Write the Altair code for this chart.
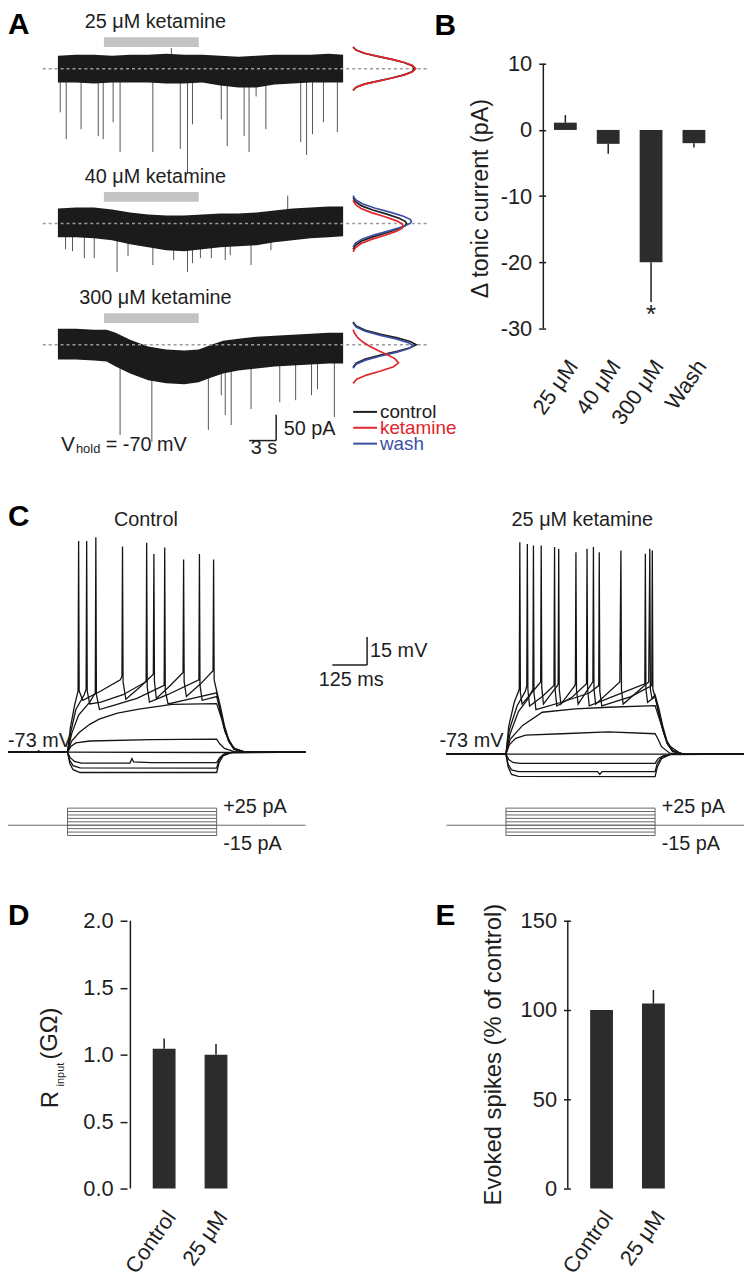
import altair as alt
import pandas as pd

FONT = "Liberation Sans, Arial, Helvetica, sans-serif"
INK = "#1e1e1e"
BAR = "#2c2c2c"
RED = "#e0252b"
BLUE = "#3b50a4"
DRUG = "#c3c3c3"
STEPC = "#666666"

W, H = 742, 1272   # drawing canvas (page margin is 8 px)

# ================= Panel A : tonic current traces =================
A_labels = ["25 μM ketamine", "40 μM ketamine", "300 μM ketamine"]
A_drug = [5.1, 15.6]          # s, application window

A1_t = [0, 2, 4, 6, 8, 10, 12, 14, 16, 18, 20, 22, 24, 26, 28, 30, 31.6]
A1_top = [25.0, 26.9, 26.9, 25.0, 26.9, 26.9, 28.8, 26.9, 26.9, 25.0, 23.1, 25.0, 26.9, 26.9, 26.9, 28.8, 26.9]
A1_bot = [-26.9, -26.9, -28.8, -26.9, -26.9, -26.9, -28.8, -28.8, -26.9, -32.7, -36.5, -36.5, -30.8, -28.8, -26.9, -26.9, -26.9]

A2_t = [0, 2, 4, 6, 8, 10, 12, 14, 16, 18, 20, 22, 24, 26, 28, 30, 31.6]
A2_top = [28.8, 30.8, 30.8, 26.9, 21.2, 17.3, 15.4, 15.4, 17.3, 19.2, 19.2, 21.2, 25.0, 28.8, 30.8, 32.7, 32.7]
A2_bot = [-26.9, -26.9, -28.8, -32.7, -40.4, -46.2, -51.9, -53.8, -50.0, -46.2, -44.2, -42.3, -36.5, -32.7, -28.8, -26.9, -25.0]

A3_t = [0, 2, 4, 5.4, 6.4, 8, 10, 12, 14, 15.6, 17, 18.3, 20, 22, 24, 26, 28, 30, 31.6]
A3_top = [30.8, 30.8, 28.8, 28.8, 23.1, 9.6, -3.8, -9.6, -11.5, -9.6, 0.0, 7.7, 11.5, 15.4, 17.3, 19.2, 21.2, 23.1, 23.1]
A3_bot = [-28.8, -28.8, -30.8, -32.7, -42.3, -55.8, -69.2, -75.0, -76.9, -73.1, -63.5, -55.8, -50.0, -46.2, -42.3, -40.4, -38.5, -36.5, -36.5]

A1_spk_t = [0.26, 0.92, 2.57, 4.47, 5.02, 6.12, 6.89, 10.52, 13.56, 14.36, 14.91, 18.1, 18.76, 20.63, 21.18, 21.96, 23.04, 26.9, 27.55, 28.21, 29.42, 30.96, 12.57]
A1_spk_a = [-84.6, -136.5, -117.3, -130.8, -136.5, -103.8, -161.5, -161.5, -155.8, -203.8, -107.7, -98.1, -150, -130.8, -161.5, -53.8, -117.3, -142.3, -167.3, -126.9, -103.8, -123.1, 40]
A2_spk_t = [0.85, 1.62, 2.93, 4.03, 6.56, 7.77, 10.52, 12.82, 14.36, 14.91, 15.79, 17.0, 18.54, 19.09, 21.4, 23.6, 25.46]
A2_spk_a = [-50, -53.8, -67.3, -67.3, -94.2, -63.5, -80.8, -71.2, -94.2, -76.9, -67.3, -67.3, -71.2, -61.5, -80.8, -51.9, 53.8]
A3_spk_t = [6.89, 10.41, 16.67, 18.1, 18.54, 19.2, 21.4, 24.58, 26.34, 28.1, 28.76, 30.63]
A3_spk_a = [-175, -188.5, -165.4, -98.1, -136.5, -155.8, -125, -111.5, -107.7, -98.1, -86.5, -140.4]

# all-points histograms (pA offset, relative count)
H1_off = [-42, -36, -30, -24, -18, -12, -6, 0, 6, 12, 18, 24, 30, 36, 42]
H1_ctrl = [0.0, 0.05, 0.18, 0.4, 0.63, 0.83, 0.96, 1.0, 0.96, 0.83, 0.63, 0.4, 0.18, 0.05, 0.0]
H1_ket = [0.0, 0.05, 0.19, 0.41, 0.64, 0.84, 0.97, 1.02, 0.97, 0.84, 0.64, 0.41, 0.19, 0.05, 0.0]
H2_ctrl_off = [-50, -42, -34, -26, -18, -10, -4, 0, 4, 10, 18, 26, 34, 42, 50]
H2_ctrl = [0, 0.04, 0.14, 0.32, 0.55, 0.75, 0.85, 0.87, 0.85, 0.75, 0.55, 0.32, 0.14, 0.04, 0]
H2_ket_off = [-55, -47, -39, -31, -23, -15, -9, -5, -1, 5, 13, 21, 29, 37, 45]
H2_ket = [0, 0.04, 0.13, 0.3, 0.52, 0.71, 0.8, 0.82, 0.8, 0.71, 0.52, 0.3, 0.13, 0.04, 0]
H2_wash_off = [-46, -38, -30, -22, -14, -6, 0, 4, 8, 14, 22, 30, 38, 46, 54]
H2_wash = [0, 0.04, 0.15, 0.35, 0.6, 0.82, 0.93, 0.95, 0.93, 0.82, 0.6, 0.35, 0.15, 0.04, 0]
H3_ctrl_off = [-44, -36, -28, -20, -13, -6, 0, 6, 13, 20, 28, 36, 44]
H3_ctrl = [0, 0.05, 0.2, 0.45, 0.72, 0.93, 1.03, 0.93, 0.72, 0.45, 0.2, 0.05, 0]
H3_wash_off = [-46, -38, -30, -22, -15, -8, -2, 4, 11, 18, 26, 34, 42]
H3_wash = [0, 0.05, 0.2, 0.45, 0.7, 0.9, 0.98, 0.9, 0.7, 0.45, 0.2, 0.05, 0]
H3_ket_off = [-75, -67, -59, -51, -43, -35, -27, -19, -11, -3, 5, 13, 21, 29]
H3_ket = [0, 0.06, 0.22, 0.45, 0.66, 0.74, 0.68, 0.55, 0.4, 0.27, 0.16, 0.08, 0.03, 0]

LEG_labels = ["control", "ketamine", "wash"]
LEG_colors = [INK, RED, BLUE]

# ================= Panel B =================
B_cat = ["25 μM", "40 μM", "300 μM", "Wash"]
B_mean = [1.1, -2.1, -20.0, -2.0]
B_sem = [1.15, 1.5, 6.0, 0.65]
B_ticks = [-30, -20, -10, 0, 10]

# ================= Panel C : voltage responses =================
ctrl_m15 = [[-214, -73], [0, -73], [8, -79], [20, -82.5], [45, -84], [537, -84], [545, -79], [560, -75], [590, -73.3], [857, -73]]
ctrl_m10 = [[-214, -73], [0, -73], [8, -77.5], [20, -80.3], [45, -81.5], [537, -81.6], [545, -77.5], [560, -74.5], [590, -73.2], [857, -73]]
ctrl_m5 = [[-214, -73], [0, -73], [10, -76], [25, -78], [50, -78.9], [225, -78.9], [232, -76.5], [238, -78.3], [300, -78.7], [537, -78.6], [548, -76], [565, -74], [600, -73], [857, -73]]
ctrl_0 = [[-214, -73], [-110, -73], [-104, -72.2], [-98, -73], [0, -73], [537, -73.2], [857, -73]]
ctrl_p5 = [[-214, -73], [0, -73], [12, -70], [30, -68], [80, -67], [300, -66.2], [537, -66], [548, -68.5], [565, -71], [600, -72.7], [640, -73], [857, -73]]
ctrl_p10 = [[-214, -73], [0, -73], [15, -67], [43, -62.3], [80, -58], [114, -55.2], [180, -52], [257, -49.8], [376, -47.2], [537, -46.8], [555, -55], [567, -62], [585, -68], [602, -71], [640, -73], [857, -73]]
ctrl_p15 = [[-214, -73], [0, -73], [15, -63], [40, -53], [80, -46], [100, -41], [102, 43], [104, -42], [115, -50], [160, -48], [250, -44], [348, -37], [350, 37.5], [352, -40], [362, -47], [450, -44], [537, -41], [550, -51], [565, -60], [580, -67], [600, -71.5], [640, -73], [857, -73]]
ctrl_p20 = [[-214, -73], [0, -73], [12, -62], [30, -50], [60, -42], [67, -39], [69, 41], [71, -40], [80, -47], [120, -46], [200, -42], [283, -35], [285, 40], [287, -38], [295, -46], [360, -42], [473, -34], [475, 34], [477, -37], [485, -45], [537, -43], [550, -50], [565, -60], [580, -67], [600, -71.5], [640, -73], [857, -73]]
ctrl_p25 = [[-214, -73], [0, -73], [10, -60], [25, -48], [38, -40], [40, 41], [42, -40], [55, -45], [120, -40], [190, -34], [196, -32], [198, 38], [200, -35], [210, -44.5], [260, -38], [309, -31], [311, 34], [313, -35], [320, -44], [370, -37], [416, -30], [418, 31], [420, -35], [428, -43], [480, -36], [524, -29], [526, 31], [528, -34], [537, -40], [550, -48], [565, -58.7], [580, -66], [600, -71.2], [640, -73], [857, -73]]

ket_m15 = [[-214, -73], [0, -73], [8, -80], [20, -84], [45, -85], [537, -85.2], [545, -80], [560, -75.5], [590, -73.3], [857, -73]]
ket_m10 = [[-214, -73], [0, -73], [8, -78.5], [20, -81.5], [45, -82.5], [330, -82.5], [338, -84], [346, -82.5], [537, -82.5], [545, -78], [560, -74.8], [590, -73.2], [857, -73]]
ket_m5 = [[-214, -73], [0, -73], [10, -76], [25, -77.5], [50, -78], [537, -78], [548, -75.5], [565, -74], [600, -73], [857, -73]]
ket_0 = [[-214, -73], [857, -73]]
ket_p5 = [[-214, -73], [0, -73], [12, -68], [35, -64.5], [71, -62.8], [200, -62], [369, -61], [537, -62], [548, -65], [560, -69], [590, -72.5], [630, -73], [857, -73]]
ket_p10 = [[-214, -73], [0, -73], [15, -65], [60, -57.5], [131, -50.4], [250, -48.6], [369, -47.7], [537, -46.8], [560, -57.5], [583, -68], [631, -73], [857, -73]]
ket_p15 = [[-214, -73], [0, -73], [15, -62], [45, -50], [80, -43], [97, -38], [99, 39.7], [101, -40], [108, -49], [200, -45], [300, -40], [334, -36], [336, 36], [338, -39], [345, -47], [450, -42], [525, -36], [527, 37], [529, -38], [537, -42], [550, -51], [565, -60], [580, -67], [600, -71.5], [640, -73], [857, -73]]
ket_p20 = [[-214, -73], [0, -73], [12, -60], [40, -47], [70, -39], [75, -36], [77, 40.5], [79, -38], [85, -47], [130, -42], [173, -36], [175, 38.8], [177, -38], [183, -47], [240, -42], [290, -35], [292, 37.9], [294, -38], [300, -47], [400, -41], [500, -35], [502, 35.2], [504, -38], [510, -45], [537, -42], [550, -50], [565, -60], [580, -67], [600, -71.5], [640, -73], [857, -73]]
ket_p25 = [[-214, -73], [0, -73], [10, -58], [30, -45], [48, -38], [50, 41.4], [52, -40], [58, -46], [120, -35], [125, -34], [127, 39.7], [129, -37], [135, -46], [185, -36], [188, -35], [190, 37.9], [192, -38], [198, -46], [248, -36], [250, -35], [252, 36], [254, -38], [260, -46], [313, -34], [315, 38.8], [317, -38], [323, -46], [410, -34], [414, 37], [416, -38], [422, -46], [514, -34], [518, 37.9], [520, -38], [526, -43], [537, -41], [550, -48], [565, -58], [580, -66], [600, -71], [640, -73], [857, -73]]

STEP_LEVELS = [-15, -10, -5, 0, 5, 10, 15, 20, 25]   # pA
STEP_ON, STEP_OFF = 0, 537                            # ms

# ================= Panels D & E =================
DE_cat = ["Control", "25 μM"]
D_mean = [1.045, 1.0]
D_sem = [0.075, 0.08]
D_ticks = [0, 0.5, 1.0, 1.5, 2.0]
E_mean = [100.0, 103.6]
E_sem = [0.0, 7.6]
E_ticks = [0, 50, 100, 150]


# ----------------------------------------------------------------------------------
# scale helpers: a panel is placed by the pixel of one reference value + px per unit
def sx(px0, v0, ppu):
    return alt.Scale(domain=[v0 - px0 / ppu, v0 + (W - px0) / ppu], nice=False, zero=False)


def sy(py0, v0, ppu):
    return alt.Scale(domain=[v0 - (H - py0) / ppu, v0 + py0 / ppu], nice=False, zero=False)


def X(f, s):
    return alt.X(f, type="quantitative", scale=s, axis=None)


def Y(f, s, axis=None):
    return alt.Y(f, type="quantitative", scale=s, axis=axis)


def txt(s, x, y, size=20, align="left", baseline="alphabetic", angle=0, weight="normal", color=INK):
    return alt.Chart(pd.DataFrame({"s": [s]})).mark_text(
        align=align, baseline=baseline, angle=angle, fontSize=size,
        fontWeight=weight, color=color, font=FONT
    ).encode(text="s:N", x=alt.value(x), y=alt.value(y))


# ------------------------------- Panel A ------------------------------------------
XA = sx(50.3, 0, 9.1)      # seconds
YA = sy(56, 0, 0.52)       # pA
A_OFF = [0, -300, -535]    # vertical stacking of the three recordings (pA)
H_BASE, H_W = 32.7, 6.8    # where histograms sit (s) and their width per unit count

env_rows, spk_rows, base_rows, drug_rows, lab_rows = [], [], [], [], []
for k, (tt, top, bot) in enumerate([(A1_t, A1_top, A1_bot), (A2_t, A2_top, A2_bot), (A3_t, A3_top, A3_bot)]):
    off = A_OFF[k]
    for t, a, b in zip(tt, top, bot):
        env_rows.append({"tr": k, "t": t, "top": a + off, "bot": b + off})
    base_rows.append({"t0": -1.68, "t1": 40.85, "y": off})
    drug_rows.append({"t0": A_drug[0], "t1": A_drug[1], "y0": off + 42, "y1": off + 61})
    lab_rows.append({"t": 10.8, "y": off + 78, "s": A_labels[k]})
for k, (st, sa) in enumerate([(A1_spk_t, A1_spk_a), (A2_spk_t, A2_spk_a), (A3_spk_t, A3_spk_a)]):
    off = A_OFF[k]
    for t, a in zip(st, sa):
        spk_rows.append({"t": t, "y0": off + (-15 if a < 0 else 15), "y1": off + a})

hist_sets = [
    (0, "control", H1_off, H1_ctrl), (0, "ketamine", H1_off, H1_ket),
    (1, "control", H2_ctrl_off, H2_ctrl), (1, "wash", H2_wash_off, H2_wash), (1, "ketamine", H2_ket_off, H2_ket),
    (2, "control", H3_ctrl_off, H3_ctrl), (2, "wash", H3_wash_off, H3_wash), (2, "ketamine", H3_ket_off, H3_ket),
]
hist_rows = []
for k, cond, offs, cnt in hist_sets:
    for i, (o, c) in enumerate(zip(offs, cnt)):
        hist_rows.append({"key": f"{k}-{cond}", "cond": cond, "i": i,
                          "x": H_BASE + H_W * c, "y": A_OFF[k] + o})
df_hist = pd.DataFrame(hist_rows)

SB_A_t, SB_A_y, SB_A_dt, SB_A_dy = 24.18, -721, 3, 50
A_layers = [
    alt.Chart(pd.DataFrame(spk_rows)).mark_rule(color="#555555", strokeWidth=1).encode(
        x=X("t", XA), y=Y("y0", YA), y2="y1"),
    alt.Chart(pd.DataFrame(env_rows)).mark_area(color="#1b1b1b").encode(
        x=X("t", XA), y=Y("top", YA), y2="bot", detail="tr:N"),
    alt.Chart(pd.DataFrame(base_rows)).mark_rule(color="#9a9a9a", strokeWidth=1.5, strokeDash=[3, 3]).encode(
        x=X("t0", XA), x2="t1", y=Y("y", YA)),
    alt.Chart(pd.DataFrame(drug_rows)).mark_rect(color=DRUG).encode(
        x=X("t0", XA), x2="t1", y=Y("y0", YA), y2="y1"),
    alt.Chart(pd.DataFrame(lab_rows)).mark_text(fontSize=20, align="center", baseline="alphabetic",
                                                color=INK, font=FONT).encode(
        x=X("t", XA), y=Y("y", YA), text="s:N"),
    alt.Chart(pd.DataFrame({"t": [SB_A_t], "y0": [SB_A_y], "y1": [SB_A_y + SB_A_dy]})).mark_rule(
        color=INK, strokeWidth=1.5).encode(x=X("t", XA), y=Y("y0", YA), y2="y1"),
    alt.Chart(pd.DataFrame({"t0": [SB_A_t - SB_A_dt], "t1": [SB_A_t], "y": [SB_A_y]})).mark_rule(
        color=INK, strokeWidth=1.5).encode(x=X("t0", XA), x2="t1", y=Y("y", YA)),
]
for cond, colr in [("control", INK), ("wash", BLUE), ("ketamine", RED)]:
    A_layers.append(
        alt.Chart(df_hist[df_hist.cond == cond]).mark_line(color=colr, strokeWidth=1.7).encode(
            x=X("x", XA), y=Y("y", YA), detail="key:N", order="i:Q"))
panelA = alt.layer(*A_layers)

A_text = [
    txt("50 pA", 278, 425),
    txt("3 s", 258, 444, align="center"),
    txt("V", 53.5, 441, size=21),
    txt("hold", 68.5, 443.5, size=13),
    txt("= -70 mV", 98.5, 441),
    txt("A", 0, 21, size=30, weight="bold", color="#000"),
]
for j, (lab, colr) in enumerate(zip(LEG_labels, LEG_colors)):
    yy = 402 + 16 * j
    A_text.append(alt.Chart(pd.DataFrame({"s": [lab]})).mark_rule(color=colr, strokeWidth=2).encode(
        x=alt.value(348), x2=alt.value(372), y=alt.value(yy)))
    A_text.append(txt(lab, 375, yy, size=19, baseline="middle", color=colr))


# ------------------------------- bar panels ---------------------------------------
def bar_panel(cats, mean, sem, ticks, lexpr, xs, ys, first_px, axis_px, lab_dx, lab_dy, ppx, ppy, star=None):
    idx = list(range(1, len(cats) + 1))
    df = pd.DataFrame({"i": idx, "m": mean, "z": 0.0,
                       "e": [m + (s if m >= 0 else -s) for m, s in zip(mean, sem)]})
    ax = alt.Axis(orient="left", offset=-axis_px, values=ticks, labelExpr=lexpr, domain=False, grid=False,
                  title=None, tickSize=7, tickWidth=1.5, tickColor=INK,
                  labelFontSize=22, labelPadding=7, labelColor=INK, labelFont=FONT)
    lo, hi = min(ticks), max(ticks)
    axis_i = 1 - (first_px - axis_px) / ppx
    lab = pd.DataFrame({"i": [v + lab_dx / ppx for v in idx], "y": lo - lab_dy / ppy, "s": cats})
    layers = [
        alt.Chart(df).mark_bar(color=BAR, size=23).encode(x=X("i", xs), y=Y("m", ys, ax), y2="z"),
        alt.Chart(df).mark_rule(color=INK, strokeWidth=1.5).encode(x=X("i", xs), y=Y("m", ys, ax), y2="e"),
        alt.Chart(pd.DataFrame({"i": [axis_i], "a": [lo], "b": [hi]})).mark_rule(
            color=INK, strokeWidth=1.5).encode(x=X("i", xs), y=Y("a", ys, ax), y2="b"),
        alt.Chart(lab).mark_text(fontSize=22, angle=305, align="right", baseline="middle",
                                 color=INK, font=FONT).encode(x=X("i", xs), y=Y("y", ys, ax), text="s:N"),
    ]
    if star is not None:
        layers.append(alt.Chart(pd.DataFrame({"i": [star[0]], "y": [star[1]], "s": ["*"]})).mark_text(
            fontSize=26, baseline="top", align="center", color=INK, font=FONT).encode(
            x=X("i", xs), y=Y("y", ys, ax), text="s:N"))
    return alt.layer(*layers)


INT_LABEL = "datum.value + ''"
XB = sx(564.5, 1, 43.8)
YB = sy(51, 10, 6.675)
panelB = bar_panel(B_cat, B_mean, B_sem, B_ticks, INT_LABEL, XB, YB, 564.5, 542, 8, 34, 43.8, 6.675,
                   star=(3, -26.05))

XD = sx(154.5, 1, 53)
YD = sy(1185, 0, 135)
panelD = bar_panel(DE_cat, D_mean, D_sem, D_ticks, "format(datum.value, '.1f')", XD, YD, 154.5, 120,
                   7, 25, 53, 135)

XE = sx(601.5, 1, 53)
YE = sy(1185, 0, 1.8)
panelE = bar_panel(DE_cat, E_mean, E_sem, E_ticks, INT_LABEL, XE, YE, 601.5, 567, 7, 25, 53, 1.8)

BDE_text = [
    txt("B", 430, 22, size=30, weight="bold", color="#000"),
    txt("Δ tonic current (pA)", 484, 187, size=23.5, angle=270, align="center"),
    txt("D", 0, 919, size=30, weight="bold", color="#000"),
    txt("R", 50, 1104, size=24, angle=270),
    txt("input", 56.5, 1082, size=11, angle=270),
    txt("(GΩ)", 49, 1055, size=24, angle=270),
    txt("E", 431, 919, size=30, weight="bold", color="#000"),
    txt("Evoked spikes (% of control)", 497, 1050, size=24, angle=270, align="center"),
]


# ------------------------------- Panel C ------------------------------------------
def sweeps_df(sweeps):
    rows = []
    for s, pts in enumerate(sweeps):
        for i, (t, v) in enumerate(pts):
            rows.append({"sw": s, "i": i, "t": t, "v": v})
    return pd.DataFrame(rows)


def trace_panel(sweeps, xs, ys):
    return alt.Chart(sweeps_df(sweeps)).mark_line(color="#141414", strokeWidth=1.3).encode(
        x=X("t", xs), y=Y("v", ys), detail="sw:N", order="i:Q")


def step_panel(xs, ys):
    lv = pd.DataFrame({"lvl": STEP_LEVELS, "t0": STEP_ON, "t1": STEP_OFF})
    ed = pd.DataFrame({"t": [STEP_ON, STEP_OFF], "a": [min(STEP_LEVELS)] * 2, "b": [max(STEP_LEVELS)] * 2})
    bl = pd.DataFrame({"t0": [-214], "t1": [857], "y": [0]})
    return alt.layer(
        alt.Chart(bl).mark_rule(color=STEPC, strokeWidth=1).encode(x=X("t0", xs), x2="t1", y=Y("y", ys)),
        alt.Chart(lv).mark_rule(color=STEPC, strokeWidth=1).encode(x=X("t0", xs), x2="t1", y=Y("lvl", ys)),
        alt.Chart(ed).mark_rule(color=STEPC, strokeWidth=1).encode(x=X("t", xs), y=Y("a", ys), y2="b"),
    )


ctrl_sweeps = [ctrl_m15, ctrl_m10, ctrl_m5, ctrl_0, ctrl_p5, ctrl_p10, ctrl_p15, ctrl_p20, ctrl_p25]
ket_sweeps = [ket_m15, ket_m10, ket_m5, ket_0, ket_p5, ket_p10, ket_p15, ket_p20, ket_p25]

XCL = sx(60, 0, 0.28)      # ms, control
XCR = sx(502, 0, 0.28)     # ms, ketamine
YCL = sy(745, -73, 1.867)  # mV
YCR = sy(747, -73, 1.867)
YSL = sy(818.7, 0, 0.69)   # pA
YSR = sy(818.7, 0, 0.69)

SB_C_t, SB_C_v, SB_C_dt, SB_C_dv = 1078.6, -25.9, 125, 15
panelC_left = alt.layer(
    trace_panel(ctrl_sweeps, XCL, YCL),
    alt.Chart(pd.DataFrame({"t": [SB_C_t], "v0": [SB_C_v], "v1": [SB_C_v + SB_C_dv]})).mark_rule(
        color=INK, strokeWidth=1.5).encode(x=X("t", XCL), y=Y("v0", YCL), y2="v1"),
    alt.Chart(pd.DataFrame({"t0": [SB_C_t - SB_C_dt], "t1": [SB_C_t], "v": [SB_C_v]})).mark_rule(
        color=INK, strokeWidth=1.5).encode(x=X("t0", XCL), x2="t1", y=Y("v", YCL)),
)
panelC_right = trace_panel(ket_sweeps, XCR, YCR)
stepL = step_panel(XCL, YSL)
stepR = step_panel(XCR, YSR)

C_text = [
    txt("C", 0, 517, size=30, weight="bold", color="#000"),
    txt("Control", 139, 517, align="center"),
    txt("25 μM ketamine", 579, 517, align="center"),
    txt("-73 mV", 0, 740),
    txt("-73 mV", 435, 740),
    txt("15 mV", 365, 649),
    txt("125 ms", 346, 678, align="center"),
    txt("+25 pA", 217, 806),
    txt("-15 pA", 217, 844),
    txt("+25 pA", 659, 806),
    txt("-15 pA", 659, 844),
]

# ================= assemble: one canvas, each panel with its own scales =================
chart = alt.layer(
    panelA, panelB, panelC_left, panelC_right, stepL, stepR, panelD, panelE,
    *A_text, *BDE_text, *C_text,
).resolve_scale(x="independent", y="independent").properties(
    width=W, height=H, padding=0, background="white",
    autosize=alt.AutoSizeParams(type="none"),
).configure(font=FONT).configure_view(stroke=None)

chart.save("out.html", embed_options={"renderer": "svg", "actions": False})
